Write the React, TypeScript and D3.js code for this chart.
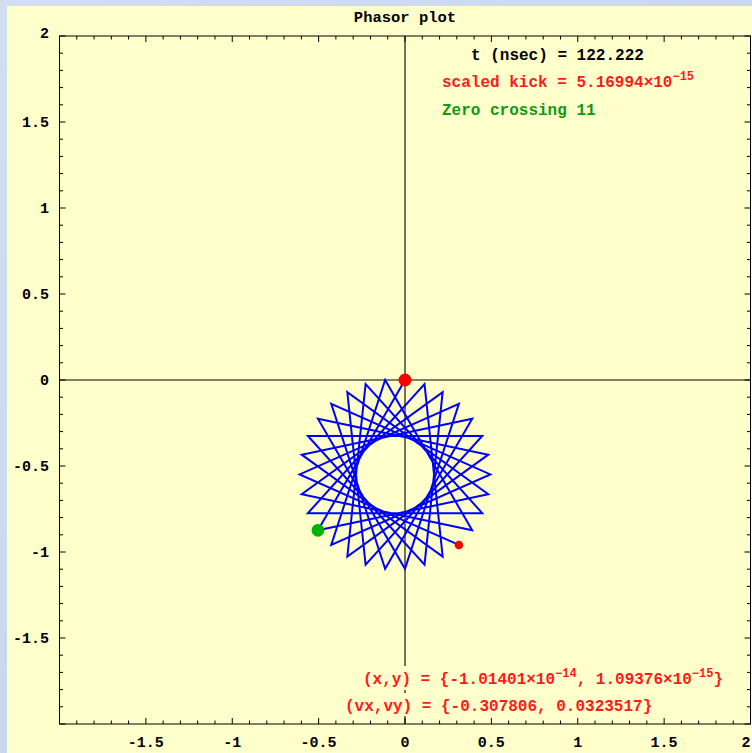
import React from "react";
import * as d3 from "d3";

// phasor trajectory (in plot order)
const phasorX = [
  0.0, -0.504, 0.482, -0.334, -0.228, 0.447, -0.562, 0.113, 0.218, -0.598,
  0.389, -0.115, -0.427, 0.494, -0.427, -0.115, 0.389, -0.598, 0.218, 0.113,
  -0.562, 0.447, -0.228, -0.334, 0.482, -0.504, 0.0, 0.312, -0.61, 0.312,
];
const phasorY = [
  0.0, -0.874, -0.664, -0.071, -1.074, -0.325, -0.325, -1.074, -0.071, -0.664,
  -0.874, 0.0, -0.959, -0.549, -0.139, -1.098, -0.225, -0.434, -1.027, -0.024,
  -0.774, -0.774, -0.024, -1.027, -0.434, -0.225, -1.098, -0.139, -0.549, -0.959,
];

// markers
const currentPoint = [0.0, 0.0];
const startPoint = [-0.504, -0.874];
const endPoint = [0.312, -0.959];

const xTickLabels = ["-1.5", "-1", "-0.5", "0", "0.5", "1", "1.5", "2"];
const yTickLabels = ["2", "1.5", "1", "0.5", "0", "-0.5", "-1", "-1.5"];
const minorTicks = d3.range(-20, 21).map((i) => i / 10);

const title = "Phasor plot";
const timeText = "t (nsec) = 122.222";
const kickText = "scaled kick = 5.16994×10";
const kickExp = "−15";
const crossingText = "Zero crossing 11";
const posParts = ["(x,y) =  {-1.01401×10", "−14", ", 1.09376×10", "−15", "}"];
const velText = "(vx,vy) =  {-0.307806, 0.0323517}";

const width = 752;
const height = 753;

export default function App() {
  const x = d3.scaleLinear().domain([-2, 2]).range([59.5, 750.5]);
  const y = d3.scaleLinear().domain([-2, 2]).range([724, 36]);

  const line = d3
    .line<number>()
    .x((d, i) => x(phasorX[i]))
    .y((d, i) => y(phasorY[i]));

  const x0 = x(-2),
    x1 = x(2),
    y0 = y(-2),
    y1 = y(2);

  const mono = "'Liberation Mono', monospace";

  // tick marks on the four sides of the frame
  const ticks: JSX.Element[] = [];
  minorTicks.forEach((v, i) => {
    const major = Math.abs(v * 2 - Math.round(v * 2)) < 1e-9;
    const len = major ? 6 : 3.5;
    ticks.push(
      <line key={"b" + i} x1={x(v)} x2={x(v)} y1={y0} y2={y0 - len} />,
      <line key={"t" + i} x1={x(v)} x2={x(v)} y1={y1} y2={y1 + len} />,
      <line key={"l" + i} x1={x0} x2={x0 + len} y1={y(v)} y2={y(v)} />,
      <line key={"r" + i} x1={x1} x2={x1 - len} y1={y(v)} y2={y(v)} />
    );
  });

  return (
    <div style={{ position: "absolute", left: 0, top: 0 }}>
      <svg width={width} height={height} style={{ display: "block" }}>
        <defs>
          <linearGradient id="bg" x1="0" y1="0" x2="1" y2="1">
            <stop offset="0" stopColor="#d3def0" />
            <stop offset="1" stopColor="#c3d1e6" />
          </linearGradient>
        </defs>
        <rect width={width} height={height} fill="url(#bg)" />
        <rect x={7} y={6} width={width - 7} height={height - 6} fill="#ffffcc" />

        <text
          x={x(0)}
          y={22}
          textAnchor="middle"
          fontFamily={mono}
          fontWeight="bold"
          fontSize={15.5}
        >
          {title}
        </text>

        {/* axes through origin */}
        <line x1={x(0)} x2={x(0)} y1={y1} y2={y0} stroke="#000" strokeWidth={1.1} />
        <line x1={x0} x2={x1} y1={y(0)} y2={y(0)} stroke="#000" strokeWidth={1.1} />

        {/* frame */}
        <g stroke="#000" strokeWidth={1}>
          <rect x={x0} y={y1} width={x1 - x0} height={y0 - y1} fill="none" />
          {ticks}
        </g>

        {/* tick labels */}
        <g fontFamily={mono} fontWeight="bold" fontSize={15} fill="#000">
          {xTickLabels.map((t) => (
            <text key={"xl" + t} x={Math.min(x(+t), 746)} y={747} textAnchor="middle">
              {t}
            </text>
          ))}
          {yTickLabels.map((t) => (
            <text key={"yl" + t} x={49} y={y(+t) + (t === "2" ? 2 : 5)} textAnchor="end">
              {t}
            </text>
          ))}
        </g>

        {/* phasor path */}
        <path
          d={line(phasorX) || ""}
          fill="none"
          stroke="#0000ff"
          strokeWidth={2}
          strokeLinejoin="miter"
        />
        <circle cx={x(startPoint[0])} cy={y(startPoint[1])} r={6.3} fill="#00b400" />
        <circle cx={x(endPoint[0])} cy={y(endPoint[1])} r={4.3} fill="#ff0000" />
        <circle cx={x(currentPoint[0])} cy={y(currentPoint[1])} r={6.5} fill="#ff0000" />

        {/* annotations */}
        <g fontFamily={mono} fontWeight="bold" fontSize={16}>
          <text x={471} y={60} fill="#000">
            {timeText}
          </text>
          <text x={442} y={87} fill="#ff1a1a">
            {kickText}
            <tspan dy={-7} fontSize={12}>
              {kickExp}
            </tspan>
          </text>
          <text x={442} y={115} fill="#119911">
            {crossingText}
          </text>

          <rect x={356} y={666} width={380} height={24} fill="#ffffcc" />
          <rect x={340} y={693} width={315} height={23} fill="#ffffcc" />
          <text x={363} y={684} fill="#ff1a1a">
            {posParts[0]}
            <tspan dy={-7} fontSize={12}>
              {posParts[1]}
            </tspan>
            <tspan dy={7}>{posParts[2]}</tspan>
            <tspan dy={-7} fontSize={12}>
              {posParts[3]}
            </tspan>
            <tspan dy={7}>{posParts[4]}</tspan>
          </text>
          <text x={345} y={711} fill="#ff1a1a">
            {velText}
          </text>
        </g>
      </svg>
    </div>
  );
}
